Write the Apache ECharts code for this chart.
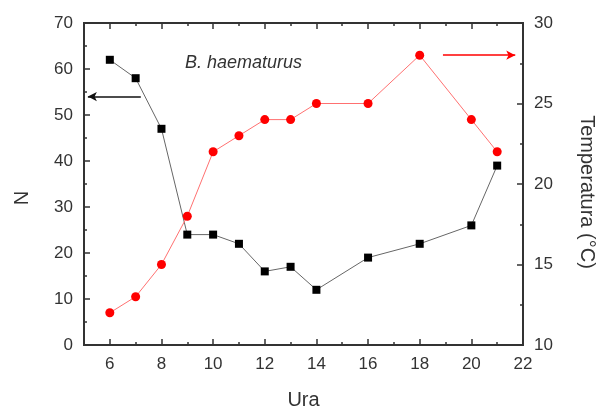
<!DOCTYPE html>
<html>
<head>
<meta charset="utf-8">
<script src="https://cdn.jsdelivr.net/npm/echarts@6/dist/echarts.min.js"></script>
<style>
  html, body { margin: 0; padding: 0; background: #fff; }
  #main { width: 599px; height: 410px; }
</style>
</head>
<body>
<div id="main"></div>
<script>
// data
var hours = [6, 7, 8, 9, 10, 11, 12, 13, 14, 16, 18, 20, 21];
var countN = [62, 58, 47, 24, 24, 22, 16, 17, 12, 19, 22, 26, 39];
var tempC = [12, 13, 15, 18, 22, 23, 24, 24, 25, 25, 28, 24, 22];
var majorX = [6, 8, 10, 12, 14, 16, 18, 20, 22];
var minorX = [7, 9, 11, 13, 15, 17, 19, 21];

var chart = echarts.init(document.getElementById('main'));
var font = 'Liberation Sans, Arial, sans-serif';
var ink = '#333';

function pair(a, b) {
    var out = [];
    for (var i = 0; i < a.length; i++) out.push([a[i], b[i]]);
    return out;
}

// x axis helper: bottom/top, major/minor ticks
function xAx(pos, ticks, len, labels) {
    return {
        type: 'value', position: pos, min: 5, max: 22,
        axisLine: { show: true, onZero: false, lineStyle: { color: ink, width: 2 } },
        axisTick: { show: true, inside: true, length: len, customValues: ticks, lineStyle: { color: ink, width: 1.5 } },
        axisLabel: labels ? { show: true, customValues: majorX, color: ink, fontSize: 17, fontFamily: font, margin: 11 } : { show: false },
        splitLine: { show: false }
    };
}

var xAxes = [xAx('bottom', majorX, 6, true), xAx('bottom', minorX, 3, false),
             xAx('top', majorX, 6, false), xAx('top', minorX, 3, false)];
xAxes[0].name = 'Ura';
xAxes[0].nameLocation = 'middle';
xAxes[0].nameGap = 45;
xAxes[0].nameTextStyle = { color: ink, fontSize: 20, fontFamily: font };

var option = {
    animation: false,
    title: {
        text: 'B. haematurus', left: 180, top: 49,
        textStyle: { fontStyle: 'italic', fontWeight: 'normal', fontSize: 18, color: ink, fontFamily: font }
    },
    grid: { left: 84, right: 76, top: 23, bottom: 65, outerBoundsMode: 'none', containLabel: false },
    xAxis: xAxes,
    yAxis: [{
        type: 'value', min: 0, max: 70, interval: 10, position: 'left',
        name: 'N', nameLocation: 'middle', nameGap: 52,
        nameTextStyle: { color: ink, fontSize: 20, fontFamily: font, padding: [0, 28, 0, 0] },
        axisLine: { show: true, lineStyle: { color: ink, width: 2 } },
        axisTick: { show: true, inside: true, length: 6, lineStyle: { color: ink, width: 1.5 } },
        minorTick: { show: true, splitNumber: 2, length: 3, lineStyle: { color: ink, width: 1.5 } },
        axisLabel: { color: ink, fontSize: 17, fontFamily: font, margin: 11 },
        splitLine: { show: false }
    }, {
        type: 'value', min: 10, max: 30, interval: 5, position: 'right',
        name: 'Temperatura (°C)', nameLocation: 'middle', nameGap: 54, nameRotate: -90,
        nameTextStyle: { color: ink, fontSize: 20, fontFamily: font, padding: [0, 0, 0, 16] },
        axisLine: { show: true, lineStyle: { color: ink, width: 2 } },
        axisTick: { show: true, inside: true, length: 6, lineStyle: { color: ink, width: 1.5 } },
        minorTick: { show: true, splitNumber: 2, length: 3, lineStyle: { color: ink, width: 1.5 } },
        axisLabel: { color: ink, fontSize: 17, fontFamily: font, margin: 11 },
        splitLine: { show: false }
    }],
    series: [{
        name: 'N', type: 'line', xAxisIndex: 0, yAxisIndex: 0,
        data: pair(hours, countN),
        symbol: 'rect', symbolSize: 8,
        itemStyle: { color: '#000' },
        lineStyle: { color: '#666', width: 1 },
        markLine: {
            silent: true, symbol: ['none', 'arrow'], symbolSize: [7, 9],
            label: { show: false },
            lineStyle: { color: '#111', width: 1.5, type: 'solid' },
            data: [[{ coord: [7.2, 54] }, { coord: [5.15, 54] }]]
        }
    }, {
        name: 'T', type: 'line', xAxisIndex: 0, yAxisIndex: 1,
        data: pair(hours, tempC),
        symbol: 'circle', symbolSize: 9,
        itemStyle: { color: '#ff0000' },
        lineStyle: { color: '#ff7070', width: 1 },
        markLine: {
            silent: true, symbol: ['none', 'arrow'], symbolSize: [7, 9],
            label: { show: false },
            lineStyle: { color: '#ff0000', width: 1.5, type: 'solid' },
            data: [[{ coord: [18.9, 28] }, { coord: [21.7, 28] }]]
        }
    }]
};

chart.setOption(option);
</script>
</body>
</html>
